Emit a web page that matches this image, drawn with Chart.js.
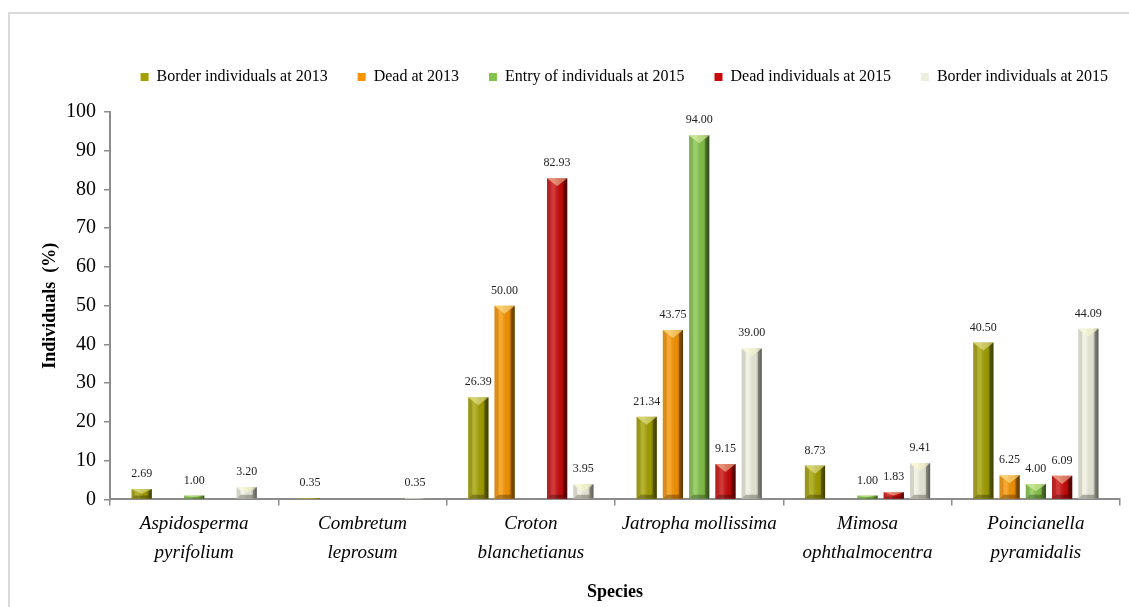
<!DOCTYPE html>
<html lang="en">
<head>
    <meta charset="UTF-8">
    <title>Individuals by species</title>
    <script src="https://cdn.jsdelivr.net/npm/chart.js"></script>
    <style>
        html, body { margin: 0; padding: 0; background: #fff; overflow: hidden; }
        #frame {
            position: absolute; left: 8px; top: 12px;
            width: 1200px; height: 700px;
            border: 2px solid #d9d9d9;
        }
        #wrap { position: absolute; left: 0; top: 0; width: 1129px; height: 607px; }
    </style>
</head>
<body>
    <div id="frame"></div>
    <div id="wrap"><canvas id="speciesChart" width="1129" height="607"></canvas></div>

    <script>
        // Species on the x axis
        const species = [
            ['Aspidosperma', 'pyrifolium'],
            ['Combretum', 'leprosum'],
            ['Croton', 'blanchetianus'],
            'Jatropha mollissima',
            ['Mimosa', 'ophthalmocentra'],
            ['Poincianella', 'pyramidalis']
        ];

        // Series values (%), null where no bar is drawn
        const border2013 = [2.69, 0.35, 26.39, 21.34, 8.73, 40.50];
        const dead2013 = [null, null, 50.00, 43.75, null, 6.25];
        const entry2015 = [1.00, null, null, 94.00, 1.00, 4.00];
        const dead2015 = [null, null, 82.93, 9.15, 1.83, 6.09];
        const border2015 = [3.20, 0.35, 3.95, 39.00, 9.41, 44.09];

        const seriesNames = ['Border individuals at 2013', 'Dead at 2013', 'Entry of individuals at 2015',
                             'Dead individuals at 2015', 'Border individuals at 2015'];
        const seriesColors = ['#a3a000', '#f79400', '#84c44a', '#c80a0a', '#eeeedf'];

        const serif = "'Liberation Serif', 'Times New Roman', serif";

        // Legend spacing: gap under the legend and shift it to the right edge
        const legendSpacing = {
            id: 'legendSpacing',
            beforeInit(chart) {
                const fit = chart.legend.fit;
                chart.legend.fit = function () {
                    fit.call(this);
                    this.height += 17;
                };
            },
            afterLayout(chart) {
                chart.legend.right = 1138;
            }
        };

        // Bevel look on each bar (light top chevron, shaded sides)
        const bevelPlugin = {
            id: 'bevel',
            afterDatasetsDraw(chart) {
                const ctx = chart.ctx;
                ctx.save();
                chart.data.datasets.forEach((ds, i) => {
                    const meta = chart.getDatasetMeta(i);
                    if (meta.hidden) return;
                    meta.data.forEach((bar, j) => {
                        if (ds.data[j] == null) return;
                        const p = bar.getProps(['x', 'y', 'base', 'width'], true);
                        const l = p.x - p.width / 2, r = p.x + p.width / 2;
                        const top = p.y, bot = p.base, h = bot - top;
                        if (h <= 0.5) return;
                        const b = Math.min(4, h / 3);
                        const tri = Math.min(p.width * 0.4, h / 2);

                        // horizontal shading
                        const g = ctx.createLinearGradient(l, 0, r, 0);
                        g.addColorStop(0, 'rgba(255,255,255,0.10)');
                        g.addColorStop(0.35, 'rgba(255,255,255,0.20)');
                        g.addColorStop(0.7, 'rgba(0,0,0,0.05)');
                        g.addColorStop(1, 'rgba(0,0,0,0.45)');
                        ctx.fillStyle = g;
                        ctx.fillRect(l, top, r - l, h);

                        // left edge
                        ctx.fillStyle = 'rgba(0,0,0,0.12)';
                        ctx.beginPath();
                        ctx.moveTo(l, top); ctx.lineTo(l + b, top + b);
                        ctx.lineTo(l + b, bot - b); ctx.lineTo(l, bot);
                        ctx.closePath(); ctx.fill();

                        // right edge
                        ctx.fillStyle = 'rgba(0,0,0,0.30)';
                        ctx.beginPath();
                        ctx.moveTo(r, top); ctx.lineTo(r - b, top + b);
                        ctx.lineTo(r - b, bot - b); ctx.lineTo(r, bot);
                        ctx.closePath(); ctx.fill();

                        // bottom edge
                        ctx.fillStyle = 'rgba(0,0,0,0.28)';
                        ctx.beginPath();
                        ctx.moveTo(l, bot); ctx.lineTo(l + b, bot - b);
                        ctx.lineTo(r - b, bot - b); ctx.lineTo(r, bot);
                        ctx.closePath(); ctx.fill();

                        // top chevron
                        ctx.fillStyle = 'rgba(255,255,200,0.45)';
                        ctx.beginPath();
                        ctx.moveTo(l, top); ctx.lineTo(r, top);
                        ctx.lineTo(p.x, top + tri);
                        ctx.closePath(); ctx.fill();
                    });
                });
                ctx.restore();
            }
        };

        // Value labels above bars
        const valueLabels = {
            id: 'valueLabels',
            afterDatasetsDraw(chart) {
                const ctx = chart.ctx;
                ctx.save();
                ctx.font = '12px ' + serif;
                ctx.fillStyle = '#222';
                ctx.textAlign = 'center';
                ctx.textBaseline = 'bottom';
                chart.data.datasets.forEach((ds, i) => {
                    const meta = chart.getDatasetMeta(i);
                    meta.data.forEach((bar, j) => {
                        const v = ds.data[j];
                        if (v == null) return;
                        ctx.fillText(v.toFixed(2), bar.x, bar.y - 9);
                    });
                });
                ctx.restore();
            }
        };

        const allSeries = [border2013, dead2013, entry2015, dead2015, border2015];

        const ctx = document.getElementById('speciesChart').getContext('2d');
        new Chart(ctx, {
            type: 'bar',
            data: {
                labels: species,
                datasets: allSeries.map((values, i) => ({
                    label: seriesNames[i],
                    data: values,
                    backgroundColor: seriesColors[i],
                    borderWidth: 0,
                    categoryPercentage: 0.78,
                    barPercentage: 0.77
                }))
            },
            options: {
                responsive: false,
                animation: false,
                layout: { padding: { top: 39, right: 9, left: 20, bottom: 0 } },
                plugins: {
                    tooltip: { enabled: false },
                    legend: {
                        position: 'top',
                        align: 'end',
                        labels: {
                            boxWidth: 8,
                            boxHeight: 8,
                            padding: 30,
                            color: '#000',
                            font: { family: serif, size: 16 }
                        }
                    }
                },
                scales: {
                    x: {
                        grid: {
                            display: true,
                            drawOnChartArea: false,
                            drawTicks: true,
                            tickLength: 6,
                            color: '#8c8c8c',
                            lineWidth: 1.5
                        },
                        border: { color: '#8c8c8c', width: 2 },
                        ticks: {
                            color: '#000',
                            maxRotation: 0,
                            autoSkip: false,
                            padding: 4.5,
                            font: { family: serif, size: 19, style: 'italic', lineHeight: 1.5 }
                        },
                        title: {
                            display: true,
                            text: 'Species',
                            color: '#000',
                            padding: { top: 10 },
                            font: { family: serif, size: 18, weight: 'bold' }
                        }
                    },
                    y: {
                        min: 0,
                        max: 100,
                        afterFit(scale) { scale.width = 90; },
                        grid: {
                            display: true,
                            drawOnChartArea: false,
                            drawTicks: true,
                            tickLength: 6,
                            color: '#8c8c8c',
                            lineWidth: 1.5
                        },
                        border: { color: '#8c8c8c', width: 2 },
                        ticks: {
                            stepSize: 10,
                            color: '#000',
                            padding: 8,
                            font: { family: serif, size: 20 }
                        },
                        title: {
                            display: true,
                            text: 'Individuals  (%)',
                            color: '#000',
                            padding: { top: 20 },
                            font: { family: serif, size: 18, weight: 'bold' }
                        }
                    }
                }
            },
            plugins: [legendSpacing, bevelPlugin, valueLabels]
        });
    </script>
</body>
</html>
